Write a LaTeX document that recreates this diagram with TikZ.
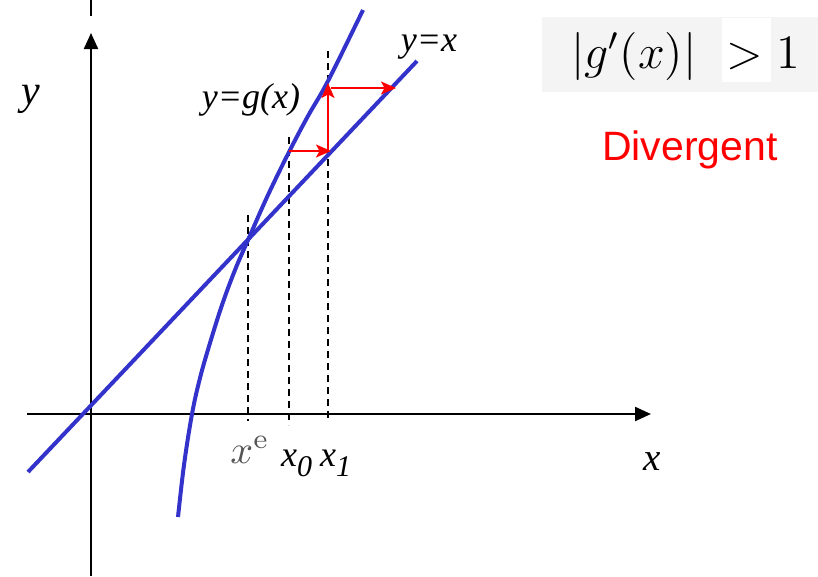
\documentclass[tikz,border=0pt]{standalone}
\usepackage{graphicx}
\usepackage[no-math]{fontspec}
\setmainfont{Liberation Serif}
\newfontfamily\arialfont{Liberation Sans}
\usetikzlibrary{arrows.meta}
\definecolor{curveblue}{RGB}{51,51,204}
\definecolor{boxgray}{RGB}{244,244,244}
\definecolor{labgray}{RGB}{85,85,85}
\tikzset{
  axisline/.style={line width=2.2pt,-{Triangle[length=16pt,width=14pt]}},
  curveline/.style={line width=4pt,draw=curveblue},
  guideline/.style={line width=1.5pt,dash pattern=on 7pt off 5pt},
  iterarrow/.style={red,line width=2pt,-{Stealth[length=15pt,width=13pt,inset=3.5pt]}},
  serlab/.style={font=\itshape\fontsize{36}{36}\selectfont,inner sep=0pt},
  mathlab/.style={inner sep=0pt,font=\fontsize{12}{12}\selectfont},
}
\begin{document}
\begin{tikzpicture}[x=1pt,y=-1pt]
\useasboundingbox (0,0) rectangle (818,576);
% formula box
\fill[boxgray] (542,17) rectangle (818,92);
\fill[white] (722,18) rectangle (771,82);
\node[mathlab,anchor=base west] (gabs) at (571,68) {\scalebox{4}{$|g'(x)|$}};
\node[mathlab,anchor=base] (gt) at (745,68) {\scalebox{4}{$>$}};
\node[mathlab,anchor=base] (one) at (788,68) {\scalebox{4}{$1$}};
\node[font=\arialfont\fontsize{41}{41}\selectfont,text=red,inner sep=0pt] (div) at (690,150) {Divergent};
% axes
\coordinate (ybot) at (91,576);
\coordinate (ytop) at (91,33);
\coordinate (ystubA) at (91,0);
\coordinate (ystubB) at (91,16);
\coordinate (xleft) at (27,414);
\coordinate (xright) at (651,414);
\draw[line width=2.2pt] (ystubA) -- (ystubB);
\draw[axisline] (ybot) -- (ytop);
\draw[axisline] (xleft) -- (xright);
% guide lines
\draw[guideline] (248,215) -- (248,421);
\draw[guideline] (289,137) -- (289,425);
\draw[guideline] (328,51) -- (328,421);
% y = x
\coordinate (idA) at (28,472);
\coordinate (idB) at (417,61);
\draw[curveline] (idA) -- (idB);
% g(x)
\draw[curveline] plot[smooth,tension=0.6] coordinates {(178,517) (184,465) (192,414) (200,378) (210,343) (222,305) (235,270) (248,240) (268,195) (289,152) (308,116) (328,81) (363,10)};
% iteration arrows
\coordinate (p0) at (289,151);
\coordinate (q0) at (331,151);
\coordinate (q0v) at (328,151);
\coordinate (p1) at (328,83);
\coordinate (p1h) at (331,88);
\coordinate (q1) at (396,88);
\draw[iterarrow] (p0) -- (q0);
\draw[iterarrow] (q0v) -- (p1);
\draw[iterarrow] (p1h) -- (q1);
% labels
\node[serlab,font=\itshape\fontsize{42}{42}\selectfont] (ylab) at (31,99) {y};
\node[serlab,font=\itshape\fontsize{39}{39}\selectfont] (xlab) at (652,462) {x};
\node[serlab] (glab) at (251,100) {y=g(x)};
\node[serlab] (idlab) at (429,47) {y=x};
\node[inner sep=0pt,text=labgray,font=\fontsize{10}{10}\selectfont] (xelab) at (250,450) {\scalebox{4}{$x^{\mathrm{e}}$}};
\node[serlab,anchor=base west] (x0lab) at (281,466) {x\raisebox{-10pt}{\fontsize{30}{30}\selectfont 0}};
\node[serlab,anchor=base west] (x1lab) at (320,466) {x\raisebox{-10pt}{\fontsize{30}{30}\selectfont 1}};
\end{tikzpicture}
\end{document}
